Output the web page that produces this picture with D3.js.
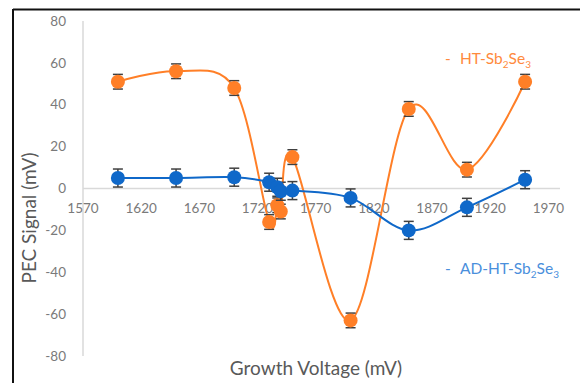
<!DOCTYPE html>
<html>
<head>
<meta charset="utf-8">
<script src="https://cdn.jsdelivr.net/npm/d3@7"></script>
<style>
  body { margin: 0; background: #fff; }
  text { font-family: Lato, "Open Sans", sans-serif; }
</style>
</head>
<body>
<div id="chart"></div>
<script>
// Data
const htVoltage = [1600, 1650, 1700, 1730, 1737, 1740, 1750, 1800, 1850, 1900, 1950];
const htSignal  = [51, 56, 48, -16, -8, -11, 15, -63, 38, 9, 51];
const htError   = [3.5, 3.5, 3.5, 3.5, 3.5, 3.5, 3.5, 3.5, 3.5, 3.5, 3.5];

const adVoltage = [1600, 1650, 1700, 1730, 1737, 1740, 1750, 1800, 1850, 1900, 1950];
const adSignal  = [5, 5, 5.4, 3, 0.6, -1.3, -1, -4.5, -20, -9, 4.2];
const adError   = [4.3, 4.3, 4.3, 4.3, 4.3, 4.3, 4.3, 4.3, 4.3, 4.3, 4.3];

const xTicks = [1570, 1620, 1670, 1720, 1770, 1820, 1870, 1920, 1970];
const yTicks = [-80, -60, -40, -20, 0, 20, 40, 60, 80];

const width = 580, height = 383;
const orange = '#ff7f27', blue = '#0f68c9';

const svg = d3.select('#chart')
    .append('svg')
    .attr('width', width)
    .attr('height', height);

// Frame lines (top and left only)
svg.append('line').attr('x1', 13).attr('x2', width).attr('y1', 9.5).attr('y2', 9.5)
    .attr('stroke', '#111').attr('stroke-width', 2);
svg.append('line').attr('x1', 13).attr('x2', 13).attr('y1', 9).attr('y2', height)
    .attr('stroke', '#111').attr('stroke-width', 2);

const x = d3.scaleLinear().domain([1570, 1980]).range([83, 560]);
const y = d3.scaleLinear().domain([-80, 80]).range([356, 21]);

// Axis lines
svg.append('line')
    .attr('x1', x(1570)).attr('x2', x(1570))
    .attr('y1', y(80)).attr('y2', y(-80))
    .attr('stroke', '#d9d9d9').attr('stroke-width', 1.5);
svg.append('line')
    .attr('x1', x(1570)).attr('x2', x(1980))
    .attr('y1', y(0)).attr('y2', y(0))
    .attr('stroke', '#d9d9d9').attr('stroke-width', 1.5);

// Tick labels
svg.selectAll('.ytick')
    .data(yTicks)
    .enter().append('text')
    .attr('x', 66)
    .attr('y', d => y(d))
    .attr('dy', '0.35em')
    .attr('text-anchor', 'end')
    .attr('fill', '#7a7a7a')
    .style('font-size', '13.5px')
    .text(d => d);

svg.selectAll('.xtick')
    .data(xTicks)
    .enter().append('text')
    .attr('x', d => x(d))
    .attr('y', y(0) + 20)
    .attr('dy', '0.35em')
    .attr('text-anchor', 'middle')
    .attr('fill', '#7a7a7a')
    .style('font-size', '13.5px')
    .text(d => d);

// Axis titles
svg.append('text')
    .attr('transform', 'translate(36,218) rotate(-90)')
    .attr('text-anchor', 'middle')
    .attr('fill', '#595959')
    .style('font-size', '19px')
    .text('PEC Signal (mV)');

svg.append('text')
    .attr('x', 316)
    .attr('y', 375)
    .attr('text-anchor', 'middle')
    .attr('fill', '#595959')
    .style('font-size', '19px')
    .text('Growth Voltage (mV)');

// Draw one series: smooth line, error bars, markers
function drawSeries(xs, ys, errs, color) {
    const pts = xs.map((v, i) => [v, ys[i], errs[i]]);
    const line = d3.line()
        .x(d => x(d[0]))
        .y(d => y(d[1]))
        .curve(d3.curveCatmullRom.alpha(0));

    svg.append('path')
        .datum(pts)
        .attr('d', line)
        .attr('fill', 'none')
        .attr('stroke', color)
        .attr('stroke-width', 2);

    const g = svg.append('g');
    pts.forEach(d => {
        const cx = x(d[0]);
        g.append('line')
            .attr('x1', cx).attr('x2', cx)
            .attr('y1', y(d[1] + d[2])).attr('y2', y(d[1] - d[2]))
            .attr('stroke', '#404040').attr('stroke-width', 1.5);
        [d[1] + d[2], d[1] - d[2]].forEach(v => {
            g.append('line')
                .attr('x1', cx - 5).attr('x2', cx + 5)
                .attr('y1', y(v)).attr('y2', y(v))
                .attr('stroke', '#404040').attr('stroke-width', 1.5);
        });
    });

    svg.append('g').selectAll('circle')
        .data(pts)
        .enter().append('circle')
        .attr('cx', d => x(d[0]))
        .attr('cy', d => y(d[1]))
        .attr('r', 7)
        .attr('fill', color);
}

drawSeries(htVoltage, htSignal, htError, orange);
drawSeries(adVoltage, adSignal, adError, blue);

// Legend labels with subscripts
function legendLabel(lx, ly, prefix, color) {
    const t = svg.append('text')
        .attr('x', lx)
        .attr('y', ly)
        .attr('fill', color)
        .style('font-size', '15.5px');
    t.append('tspan').text('-');
    t.append('tspan').attr('x', lx + 15).text(prefix + 'Sb');
    t.append('tspan').attr('dy', 4).style('font-size', '10px').text('2');
    t.append('tspan').attr('dy', -4).text('Se');
    t.append('tspan').attr('dy', 4).style('font-size', '10px').text('3');
}

legendLabel(445, 64, 'HT-', '#ff8a3d');
legendLabel(445, 274, 'AD-HT-', '#4a8fdc');
</script>
</body>
</html>
